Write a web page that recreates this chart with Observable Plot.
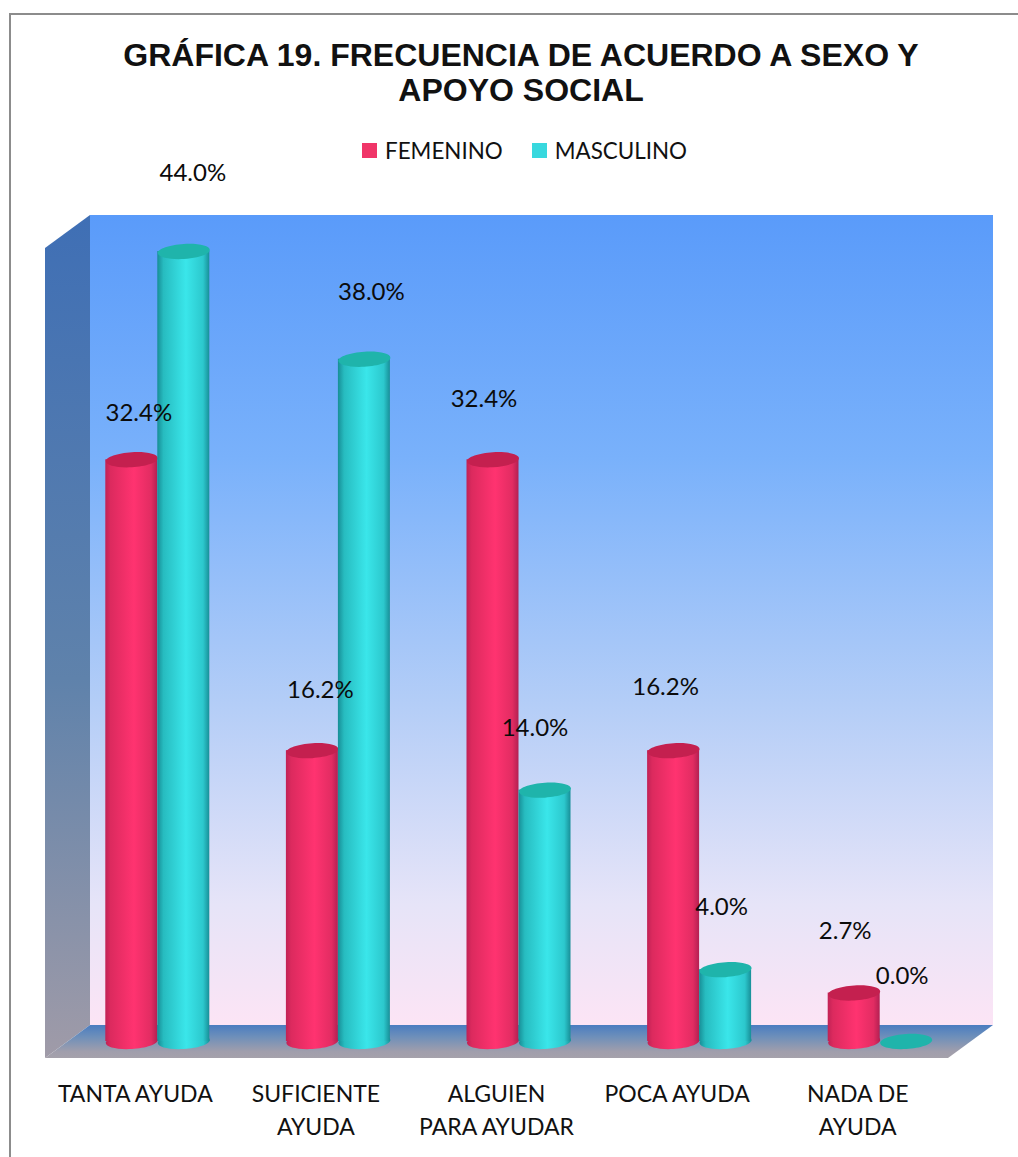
<!DOCTYPE html>
<html lang="es">
<head>
<meta charset="utf-8">
<title>Gráfica 19</title>
<script src="https://cdn.jsdelivr.net/npm/d3@7"></script>
<script src="https://cdn.jsdelivr.net/npm/@observablehq/plot@0.6"></script>
<style>
  html, body { margin: 0; padding: 0; background: #fff; }
  #figure { position: relative; width: 1018px; height: 1157px; overflow: hidden; }
  #border { position: absolute; left: 9px; top: 13px; width: 1020px; height: 1160px; border: 2px solid #8c8c8c; box-sizing: border-box; }
  #title { position: absolute; left: 0; top: 38px; width: 1042px; margin: 0; text-align: center;
           font: bold 32px/35px "Liberation Sans", Arial, sans-serif; color: #111; }
  #legend { position: absolute; top: 135px; left: 362px; display: flex; align-items: center; height: 30px;
            font: 22.4px "Lato", sans-serif; color: #111; white-space: nowrap; }
  #legend i { display: inline-block; width: 15px; height: 15px; margin-right: 8px; }
  #legend span + i { margin-left: 29px; }
  #chart { position: absolute; left: 0; top: 160px; }
  #chart svg { overflow: visible; }
</style>
</head>
<body>
<div id="figure">
  <div id="border"></div>
  <h1 id="title">GRÁFICA 19. FRECUENCIA DE ACUERDO A SEXO Y<br>APOYO SOCIAL</h1>
  <div id="legend"></div>
  <div id="chart"></div>
</div>
<script>
// Social-support frequency by sex, percentages per response category.
const categories = ["TANTA AYUDA", "SUFICIENTE\nAYUDA", "ALGUIEN\nPARA AYUDAR", "POCA AYUDA", "NADA DE\nAYUDA"];
const femenino = [32.4, 16.2, 32.4, 16.2, 2.7];
const masculino = [44.0, 38.0, 14.0, 4.0, 0.0];
const seriesNames = ["FEMENINO", "MASCULINO"];
const seriesColors = ["#f03568", "#38d8de"];

// Hand-placed label offsets (dx from bar centre, dy from bar top).
const femeninoNudges = [[7, -46], [8, -60], [-9, -60], [-8, -63], [-9, -62]];
const masculinoNudges = [[9, -78], [7, -67], [-10, -62], [-4, -62], [-4, -65]];

const width = 1018, height = 997;
const barHalf = 26, step = 180.6;
const depth = { x: 45, y: 33 };
const front = { x0: 45, x1: 948, y0: 88, y1: 898 };
const barsOffset = -0.5;

const rows = (values, nudges) => values.map((value, i) => ({
  category: categories[i], value, nudge: nudges[i]
}));
const femRows = rows(femenino, femeninoNudges);
const mascRows = rows(masculino, masculinoNudges);

// Flat, slightly tilted ellipse used for the cylinder ends.
const ellipse = {
  draw(ctx, size) {
    const rx = Math.sqrt(size / Math.PI), ry = 7.5, k = 0.5523, tilt = 0.06;
    const cy = (x, y) => y - tilt * x;
    const curve = (a, b, c, d, e, f) => ctx.bezierCurveTo(a, cy(a, b), c, cy(c, d), e, cy(e, f));
    ctx.moveTo(rx, cy(rx, 0));
    curve(rx, k * ry, k * rx, ry, 0, ry);
    curve(-k * rx, ry, -rx, k * ry, -rx, 0);
    curve(-rx, -k * ry, -k * rx, -ry, 0, -ry);
    curve(k * rx, -ry, rx, -k * ry, rx, 0);
    ctx.closePath();
  }
};

// One cylinder series: bottom end, body, top end.
function cylinders(data, side, body, cap) {
  const inset = side < 0
    ? { insetLeft: step / 2 - 2 * barHalf, insetRight: step / 2 }
    : { insetLeft: step / 2, insetRight: step / 2 - 2 * barHalf };
  const dx = side * barHalf;
  const positive = data.filter(d => d.value > 0);
  return [
    Plot.dot(positive, { x: "category", y: () => 0, r: barHalf, symbol: ellipse, dx, fill: body, stroke: "none" }),
    Plot.barY(positive, { x: "category", y: "value", fill: body, ...inset }),
    Plot.dot(data, { x: "category", y: "value", r: barHalf, symbol: ellipse, dx, fill: cap, stroke: "none" })
  ];
}

function valueLabels(data, side) {
  return data.map(d => Plot.text([d], {
    x: "category", y: "value", text: v => v.value.toFixed(1) + "%",
    dx: side * barHalf + d.nudge[0], dy: d.nudge[1],
    fontSize: 24, fill: "#0b0b0b"
  }));
}

const svg = Plot.plot({
  width, height,
  marginTop: 0, marginLeft: 0, marginRight: 0, marginBottom: height - front.y1,
  style: { fontFamily: "Lato, sans-serif", background: "transparent", overflow: "visible" },
  x: { type: "band", domain: categories, range: [front.x0 + depth.x / 2 + barsOffset, front.x1 + depth.x / 2 + barsOffset], padding: 0, round: false, axis: null },
  y: { domain: [0, 44], range: [881, 91], axis: null },
  marks: [
    ...cylinders(femRows, -1, "url(#redBody)", "#c4204f"),
    ...cylinders(mascRows, 1, "url(#tealBody)", "#1fb4ab"),
    ...valueLabels(femRows, -1),
    ...valueLabels(mascRows, 1),
    Plot.axisX({
      anchor: "bottom", tickSize: 0, tickPadding: 20, dx: -depth.x / 2,
      fontSize: 23, lineHeight: 1.43, label: null, fill: "#111", textOverflow: null
    })
  ]
});

// Gradients and the box walls, placed beneath the marks.
const root = d3.select(svg);
const defs = root.insert("defs", ":first-child");
function gradient(id, vertical, stops) {
  const g = defs.append("linearGradient").attr("id", id)
    .attr("x1", 0).attr("y1", 0).attr("x2", vertical ? 0 : 1).attr("y2", vertical ? 1 : 0);
  stops.forEach(([o, c]) => g.append("stop").attr("offset", o).attr("stop-color", c));
}
gradient("redBody", false, [[0, "#c02255"], [0.1, "#dc2a5e"], [0.55, "#ff3370"], [0.88, "#e22c62"], [1, "#b32052"]]);
gradient("tealBody", false, [[0, "#178e96"], [0.12, "#27bcc0"], [0.55, "#3ae6ea"], [0.88, "#2cc8cd"], [1, "#188f98"]]);
gradient("wall", true, [[0, "#5a9bfa"], [0.3, "#79b1fb"], [0.6, "#b3cdf7"], [0.85, "#e6e4f8"], [1, "#fce4f5"]]);
gradient("sideWall", true, [[0, "#3f6fb5"], [0.55, "#5f82ab"], [1, "#a09ba8"]]);
gradient("floor", true, [[0, "#4a7cc0"], [0.35, "#6d8fba"], [0.8, "#a09eac"], [1, "#a5a1ab"]]);

const { x0, x1, y0, y1 } = front;
const walls = root.insert("g", "defs + *");
const polygon = (points, fill) => walls.append("polygon").attr("points", points.join(" ")).attr("fill", fill);
polygon([[x0 + depth.x, y0 - depth.y], [x1 + depth.x, y0 - depth.y], [x1 + depth.x, y1 - depth.y], [x0 + depth.x, y1 - depth.y]], "url(#wall)");
polygon([[x0, y0], [x0 + depth.x, y0 - depth.y], [x0 + depth.x, y1 - depth.y], [x0, y1]], "url(#sideWall)");
polygon([[x0, y1], [x0 + depth.x, y1 - depth.y], [x1 + depth.x, y1 - depth.y], [x1, y1]], "url(#floor)");

document.getElementById("chart").appendChild(svg);

// Legend entries for the two series.
const legend = d3.select("#legend");
seriesNames.forEach((label, i) => {
  legend.append("i").style("background", seriesColors[i]);
  legend.append("span").text(label);
});
</script>
</body>
</html>
